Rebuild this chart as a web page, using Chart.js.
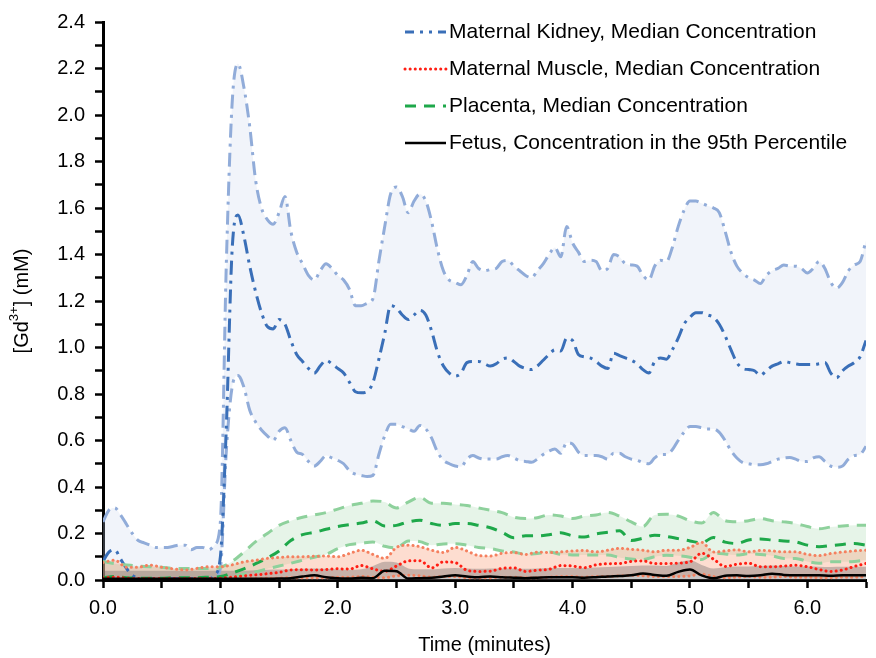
<!DOCTYPE html>
<html>
<head>
<meta charset="utf-8">
<script src="https://cdn.jsdelivr.net/npm/chart.js@4.4.0/dist/chart.umd.min.js"></script>
<style>
  html, body { margin: 0; padding: 0; background: #fff; }
</style>
</head>
<body>
<canvas id="gdChart" width="876" height="658"></canvas>
<script>
// sampling times (minutes) - kidney curves read at 0.05 min, the low curves at 0.1 min
const timeFine = [
  0, 0.05, 0.1, 0.15, 0.2, 0.25, 0.3, 0.35, 0.4, 0.45, 0.5, 0.55, 0.6, 0.65, 0.7, 0.75, 0.8, 0.85, 0.9, 0.95,
  1, 1.05, 1.1, 1.15, 1.2, 1.25, 1.3, 1.35, 1.4, 1.45, 1.5, 1.55, 1.6, 1.65, 1.7, 1.75, 1.8, 1.85, 1.9, 1.95,
  2, 2.05, 2.1, 2.15, 2.2, 2.25, 2.3, 2.35, 2.4, 2.45, 2.5, 2.55, 2.6, 2.65, 2.7, 2.75, 2.8, 2.85, 2.9, 2.95,
  3, 3.05, 3.1, 3.15, 3.2, 3.25, 3.3, 3.35, 3.4, 3.45, 3.5, 3.55, 3.6, 3.65, 3.7, 3.75, 3.8, 3.85, 3.9, 3.95,
  4, 4.05, 4.1, 4.15, 4.2, 4.25, 4.3, 4.35, 4.4, 4.45, 4.5, 4.55, 4.6, 4.65, 4.7, 4.75, 4.8, 4.85, 4.9, 4.95,
  5, 5.05, 5.1, 5.15, 5.2, 5.25, 5.3, 5.35, 5.4, 5.45, 5.5, 5.55, 5.6, 5.65, 5.7, 5.75, 5.8, 5.85, 5.9, 5.95,
  6, 6.05, 6.1, 6.15, 6.2, 6.25, 6.3, 6.35, 6.4, 6.45, 6.5
];
const timeCoarse = [
  0, 0.1, 0.2, 0.3, 0.4, 0.5, 0.6, 0.7, 0.8, 0.9,
  1, 1.1, 1.2, 1.3, 1.4, 1.5, 1.6, 1.7, 1.8, 1.9,
  2, 2.1, 2.2, 2.3, 2.4, 2.5, 2.6, 2.7, 2.8, 2.9,
  3, 3.1, 3.2, 3.3, 3.4, 3.5, 3.6, 3.7, 3.8, 3.9,
  4, 4.1, 4.2, 4.3, 4.4, 4.5, 4.6, 4.7, 4.8, 4.9,
  5, 5.1, 5.2, 5.3, 5.4, 5.5, 5.6, 5.7, 5.8, 5.9,
  6, 6.1, 6.2, 6.3, 6.4, 6.5
];

// maternal kidney (mM)
const kidneyUpper = [
  0.25, 0.30, 0.31, 0.28, 0.24, 0.20, 0.17, 0.16, 0.15, 0.14, 0.14, 0.14, 0.145, 0.15, 0.15, 0.13, 0.14, 0.14, 0.13, 0.15,
  0.25, 1.35, 2.05, 2.22, 2.12, 1.95, 1.72, 1.60, 1.55, 1.53, 1.58, 1.65, 1.50, 1.41, 1.36, 1.31, 1.29, 1.33, 1.36, 1.34,
  1.31, 1.29, 1.25, 1.18, 1.18, 1.19, 1.21, 1.37, 1.52, 1.66, 1.69, 1.65, 1.58, 1.63, 1.66, 1.63, 1.54, 1.42, 1.33, 1.29,
  1.28, 1.27, 1.31, 1.37, 1.34, 1.33, 1.335, 1.34, 1.37, 1.375, 1.35, 1.33, 1.31, 1.30, 1.33, 1.36, 1.40, 1.43, 1.39, 1.52,
  1.45, 1.41, 1.37, 1.375, 1.37, 1.33, 1.34, 1.40, 1.39, 1.36, 1.355, 1.35, 1.31, 1.29, 1.35, 1.375, 1.37, 1.43, 1.52, 1.59,
  1.63, 1.63, 1.62, 1.61, 1.60, 1.58, 1.50, 1.41, 1.35, 1.32, 1.30, 1.29, 1.275, 1.31, 1.33, 1.34, 1.355, 1.35, 1.35, 1.34,
  1.32, 1.34, 1.37, 1.34, 1.28, 1.255, 1.28, 1.33, 1.355, 1.37, 1.46
];
const kidneyMedian = [
  0.08, 0.12, 0.13, 0.09, 0.05, 0.02, 0.01, 0.005, 0.005, 0.005, 0.005, 0.005, 0.005, 0.005, 0.005, 0.005, 0.005, 0.005, 0.005, 0.02,
  0.10, 0.65, 1.42, 1.57, 1.48, 1.35, 1.24, 1.15, 1.09, 1.08, 1.12, 1.10, 1.03, 0.97, 0.94, 0.91, 0.89, 0.92, 0.945, 0.93,
  0.91, 0.89, 0.85, 0.81, 0.805, 0.81, 0.85, 0.95, 1.06, 1.18, 1.17, 1.14, 1.12, 1.14, 1.16, 1.14, 1.07, 0.98, 0.92, 0.89,
  0.877, 0.89, 0.935, 0.94, 0.94, 0.93, 0.92, 0.93, 0.95, 0.955, 0.94, 0.92, 0.91, 0.905, 0.92, 0.945, 0.97, 0.99, 0.985, 1.04,
  1.03, 0.97, 0.96, 0.955, 0.94, 0.92, 0.91, 0.975, 0.965, 0.955, 0.945, 0.93, 0.905, 0.89, 0.94, 0.955, 0.95, 0.99, 1.04, 1.10,
  1.13, 1.15, 1.15, 1.14, 1.13, 1.10, 1.05, 0.99, 0.935, 0.91, 0.905, 0.90, 0.88, 0.90, 0.92, 0.93, 0.94, 0.935, 0.93, 0.927,
  0.927, 0.927, 0.93, 0.935, 0.89, 0.87, 0.90, 0.92, 0.935, 0.96, 1.03
];
const kidneyLower = [
  0, 0, 0, 0, 0, 0, 0, 0, 0, 0, 0, 0, 0, 0, 0, 0, 0, 0, 0, 0.01,
  0.05, 0.55, 0.83, 0.88, 0.83, 0.73, 0.68, 0.645, 0.62, 0.60, 0.64, 0.655, 0.60, 0.55, 0.54, 0.51, 0.49, 0.51, 0.535, 0.525,
  0.515, 0.50, 0.47, 0.455, 0.45, 0.445, 0.45, 0.54, 0.62, 0.67, 0.67, 0.66, 0.65, 0.64, 0.665, 0.65, 0.61, 0.55, 0.515, 0.50,
  0.49, 0.487, 0.52, 0.535, 0.525, 0.52, 0.52, 0.52, 0.53, 0.535, 0.525, 0.513, 0.51, 0.506, 0.52, 0.54, 0.555, 0.563, 0.545, 0.59,
  0.585, 0.55, 0.535, 0.535, 0.535, 0.53, 0.52, 0.545, 0.545, 0.53, 0.52, 0.515, 0.505, 0.50, 0.525, 0.54, 0.54, 0.56, 0.60, 0.635,
  0.66, 0.66, 0.655, 0.65, 0.65, 0.635, 0.60, 0.556, 0.525, 0.505, 0.50, 0.496, 0.496, 0.50, 0.51, 0.52, 0.525, 0.527, 0.52, 0.51,
  0.51, 0.525, 0.53, 0.51, 0.49, 0.485, 0.49, 0.52, 0.535, 0.54, 0.575
];

// placenta (mM)
const placentaUpper = [
  0.08, 0.07, 0.065, 0.06, 0.057, 0.055, 0.05, 0.05, 0.05, 0.05,
  0.055, 0.08, 0.12, 0.165, 0.2, 0.235, 0.255, 0.27, 0.28, 0.29,
  0.305, 0.32, 0.33, 0.34, 0.335, 0.31, 0.335, 0.355, 0.33, 0.33,
  0.325, 0.32, 0.31, 0.30, 0.29, 0.27, 0.264, 0.268, 0.28, 0.275,
  0.264, 0.275, 0.28, 0.29, 0.275, 0.25, 0.23, 0.28, 0.283, 0.275,
  0.255, 0.245, 0.29, 0.255, 0.25, 0.255, 0.264, 0.255, 0.25, 0.243,
  0.23, 0.22, 0.228, 0.232, 0.235, 0.235
];
const placentaMedian = [
  0.01, 0.015, 0.01, 0.008, 0.008, 0.008, 0.01, 0.01, 0.01, 0.012,
  0.015, 0.03, 0.048, 0.07, 0.095, 0.125, 0.17, 0.195, 0.205, 0.218,
  0.23, 0.238, 0.245, 0.255, 0.232, 0.235, 0.25, 0.257, 0.243, 0.235,
  0.243, 0.243, 0.235, 0.225, 0.205, 0.182, 0.19, 0.19, 0.195, 0.203,
  0.19, 0.185, 0.198, 0.205, 0.212, 0.17, 0.18, 0.193, 0.187, 0.178,
  0.168, 0.16, 0.183, 0.163, 0.157, 0.172, 0.176, 0.172, 0.168, 0.164,
  0.15, 0.143, 0.148, 0.153, 0.157, 0.15
];
const placentaLower = [
  0.01, 0.005, 0.005, 0.005, 0.005, 0.005, 0.005, 0.005, 0.005, 0.005,
  0.008, 0.015, 0.025, 0.035, 0.048, 0.06, 0.072, 0.085, 0.098, 0.11,
  0.135, 0.152, 0.158, 0.163, 0.145, 0.138, 0.168, 0.165, 0.15, 0.155,
  0.156, 0.15, 0.14, 0.135, 0.125, 0.12, 0.11, 0.114, 0.12, 0.11,
  0.108, 0.107, 0.107, 0.107, 0.097, 0.09, 0.088, 0.10, 0.106, 0.104,
  0.098, 0.088, 0.115, 0.112, 0.107, 0.113, 0.11, 0.104, 0.093, 0.093,
  0.08, 0.072, 0.078, 0.078, 0.08, 0.086
];

// maternal muscle (mM)
const muscleUpper = [
  0.075, 0.085, 0.055, 0.055, 0.064, 0.055, 0.048, 0.043, 0.05, 0.057,
  0.057, 0.065, 0.078, 0.085, 0.093, 0.097, 0.10, 0.10, 0.102, 0.103,
  0.10, 0.114, 0.128, 0.11, 0.093, 0.14, 0.15, 0.143, 0.128, 0.118,
  0.14, 0.125, 0.105, 0.103, 0.115, 0.118, 0.11, 0.12, 0.118, 0.121,
  0.125, 0.127, 0.121, 0.128, 0.136, 0.132, 0.128, 0.121, 0.128, 0.128,
  0.14, 0.162, 0.12, 0.125, 0.13, 0.121, 0.127, 0.125, 0.121, 0.121,
  0.11, 0.105, 0.114, 0.12, 0.125, 0.128
];
const muscleMedian = [
  0.01, 0.012, 0.008, 0.006, 0.006, 0.006, 0.006, 0.006, 0.006, 0.006,
  0.008, 0.012, 0.018, 0.022, 0.027, 0.033, 0.043, 0.044, 0.043, 0.045,
  0.048, 0.047, 0.062, 0.048, 0.037, 0.06, 0.082, 0.083, 0.052, 0.078,
  0.075, 0.042, 0.037, 0.038, 0.05, 0.052, 0.037, 0.042, 0.046, 0.062,
  0.06, 0.053, 0.065, 0.07, 0.071, 0.08, 0.082, 0.071, 0.071, 0.073,
  0.078, 0.115, 0.09, 0.058, 0.068, 0.072, 0.057, 0.057, 0.06, 0.063,
  0.057, 0.045, 0.037, 0.043, 0.058, 0.071
];
const muscleLower = [
  0.003, 0.003, 0.003, 0.003, 0.003, 0.003, 0.003, 0.003, 0.003, 0.003,
  0.004, 0.005, 0.006, 0.006, 0.008, 0.008, 0.01, 0.01, 0.01, 0.01,
  0.012, 0.012, 0.015, 0.012, 0.01, 0.018, 0.02, 0.018, 0.012, 0.015,
  0.015, 0.01, 0.01, 0.01, 0.012, 0.012, 0.01, 0.01, 0.012, 0.015,
  0.015, 0.012, 0.015, 0.015, 0.018, 0.02, 0.018, 0.015, 0.015, 0.015,
  0.018, 0.025, 0.015, 0.01, 0.012, 0.015, 0.012, 0.012, 0.015, 0.012,
  0.012, 0.01, 0.01, 0.012, 0.012, 0.015
];

// fetus (mM)
const fetus95 = [
  0.005, 0.005, 0.005, 0.005, 0.005, 0.005, 0.005, 0.005, 0.005, 0.005,
  0.005, 0.005, 0.005, 0.005, 0.005, 0.006, 0.008, 0.015, 0.02, 0.012,
  0.008, 0.006, 0.01, 0.008, 0.04, 0.038, 0.006, 0.008, 0.01, 0.015,
  0.02, 0.015, 0.012, 0.015, 0.012, 0.01, 0.008, 0.01, 0.012, 0.012,
  0.012, 0.01, 0.012, 0.015, 0.017, 0.02, 0.028, 0.022, 0.018, 0.035,
  0.045, 0.02, 0.008, 0.018, 0.02, 0.017, 0.02, 0.027, 0.022, 0.02,
  0.02, 0.02, 0.018, 0.02, 0.02, 0.02
];
const fetusBand = [
  0.04, 0.04, 0.04, 0.04, 0.04, 0.04, 0.04, 0.04, 0.04, 0.04,
  0.04, 0.04, 0.04, 0.042, 0.044, 0.045, 0.046, 0.048, 0.05, 0.048,
  0.045, 0.044, 0.046, 0.06, 0.078, 0.075, 0.05, 0.046, 0.046, 0.05,
  0.052, 0.05, 0.048, 0.05, 0.05, 0.05, 0.048, 0.05, 0.052, 0.052,
  0.052, 0.052, 0.054, 0.056, 0.058, 0.06, 0.062, 0.062, 0.06, 0.075,
  0.085, 0.065, 0.05, 0.055, 0.058, 0.058, 0.06, 0.062, 0.06, 0.058,
  0.058, 0.057, 0.056, 0.057, 0.057, 0.057
];

const legendLabels = [
  'Maternal Kidney, Median Concentration',
  'Maternal Muscle, Median Concentration',
  'Placenta, Median Concentration',
  'Fetus, Concentration in the 95th Percentile'
];

const FONT = '"Liberation Sans", Arial, sans-serif';

function pts(times, vals) {
  return times.map((t, i) => ({ x: t, y: vals[i] }));
}

// legend + axis titles drawn straight on the canvas
const overlay = {
  id: 'overlay',
  afterDraw(chart) {
    const ctx = chart.ctx;
    const area = chart.chartArea;
    const ds = chart.data.datasets;
    const rows = [
      { d: ds[8], y: 32, dash: [9, 6, 3, 6, 3, 6] },
      { d: ds[2], y: 69 },
      { d: ds[5], y: 106 },
      { d: ds[0], y: 143 }
    ];
    ctx.save();
    rows.forEach((r, i) => {
      ctx.beginPath();
      ctx.setLineDash(r.dash || r.d.borderDash || []);
      ctx.lineCap = r.d.borderCapStyle || 'butt';
      ctx.strokeStyle = r.d.borderColor;
      ctx.lineWidth = r.d.borderWidth;
      ctx.moveTo(405, r.y);
      ctx.lineTo(446, r.y);
      ctx.stroke();
      ctx.setLineDash([]);
      ctx.fillStyle = '#000';
      ctx.font = '21px ' + FONT;
      ctx.textAlign = 'left';
      ctx.textBaseline = 'middle';
      ctx.fillText(legendLabels[i], 449, r.y);
    });

    ctx.font = '20px ' + FONT;
    ctx.textAlign = 'center';
    ctx.fillText('Time (minutes)', (area.left + area.right) / 2, 645);

    // y title with superscript
    const parts = [['[Gd', 20, 0], ['3+', 13, -8], ['] (mM)', 20, 0]];
    let total = 0;
    parts.forEach(p => { ctx.font = p[1] + 'px ' + FONT; total += ctx.measureText(p[0]).width; });
    ctx.translate(22, (area.top + area.bottom) / 2);
    ctx.rotate(-Math.PI / 2);
    ctx.textAlign = 'left';
    let x = -total / 2;
    parts.forEach(p => {
      ctx.font = p[1] + 'px ' + FONT;
      ctx.fillText(p[0], x, p[2]);
      x += ctx.measureText(p[0]).width;
    });
    ctx.restore();
  }
};

const kidneyDash = [14, 6, 3, 6];
const placentaDash = [11, 8];
const muscleDot = [0.1, 5];

new Chart(document.getElementById('gdChart').getContext('2d'), {
  type: 'line',
  data: {
    datasets: [
      { data: pts(timeCoarse, fetus95), borderColor: '#000000', borderWidth: 2.5, fill: false },
      { data: pts(timeCoarse, fetusBand), borderWidth: 0, borderColor: 'rgba(0,0,0,0)', backgroundColor: 'rgba(110,105,105,0.38)', fill: 'origin' },
      { data: pts(timeCoarse, muscleMedian), borderColor: '#ff1e14', borderWidth: 3, borderDash: muscleDot, borderCapStyle: 'round', fill: false },
      { data: pts(timeCoarse, muscleUpper), borderColor: '#f5805f', borderWidth: 3, borderDash: muscleDot, borderCapStyle: 'round', backgroundColor: 'rgba(248,150,110,0.32)', fill: '+1' },
      { data: pts(timeCoarse, muscleLower), borderColor: '#f5805f', borderWidth: 3, borderDash: muscleDot, borderCapStyle: 'round', fill: false },
      { data: pts(timeCoarse, placentaMedian), borderColor: '#1ea84a', borderWidth: 3, borderDash: placentaDash, fill: false },
      { data: pts(timeCoarse, placentaUpper), borderColor: '#8ed19c', borderWidth: 3, borderDash: placentaDash, backgroundColor: 'rgba(130,200,140,0.2)', fill: '+1' },
      { data: pts(timeCoarse, placentaLower), borderColor: '#8ed19c', borderWidth: 3, borderDash: placentaDash, fill: false },
      { data: pts(timeFine, kidneyMedian), borderColor: '#3a6fb8', borderWidth: 3, borderDash: kidneyDash, fill: false },
      { data: pts(timeFine, kidneyUpper), borderColor: '#91acd9', borderWidth: 3, borderDash: kidneyDash, backgroundColor: 'rgba(200,210,235,0.25)', fill: '+1' },
      { data: pts(timeFine, kidneyLower), borderColor: '#91acd9', borderWidth: 3, borderDash: kidneyDash, fill: false }
    ]
  },
  options: {
    responsive: false,
    animation: false,
    layout: { padding: { top: 19, right: 10, left: 0, bottom: 0 } },
    elements: {
      point: { radius: 0 },
      line: { cubicInterpolationMode: 'monotone' }
    },
    plugins: {
      legend: { display: false },
      tooltip: { enabled: false },
      filler: { drawTime: 'beforeDatasetsDraw' }
    },
    scales: {
      x: {
        type: 'linear',
        min: 0,
        max: 6.5,
        afterFit(scale) { scale.height = 78; },
        ticks: {
          stepSize: 0.5,
          autoSkip: false,
          maxRotation: 0,
          padding: 8,
          color: '#000',
          font: { family: FONT, size: 20 },
          callback: v => Math.abs(v - Math.round(v)) < 1e-6 ? v.toFixed(1) : ''
        },
        grid: { drawOnChartArea: false, tickLength: 8, tickWidth: 2.5, color: '#000' },
        border: { color: '#000', width: 3 }
      },
      y: {
        min: 0,
        max: 2.4,
        afterFit(scale) { scale.width = 103; },
        ticks: {
          stepSize: 0.1,
          autoSkip: false,
          padding: 10,
          color: '#000',
          font: { family: FONT, size: 20 },
          callback: v => Math.round(v * 10) % 2 === 0 ? v.toFixed(1) : ''
        },
        grid: { drawOnChartArea: false, tickLength: 8, tickWidth: 2.5, color: '#000' },
        border: { color: '#000', width: 3 }
      }
    }
  },
  plugins: [overlay]
});
</script>
</body>
</html>
